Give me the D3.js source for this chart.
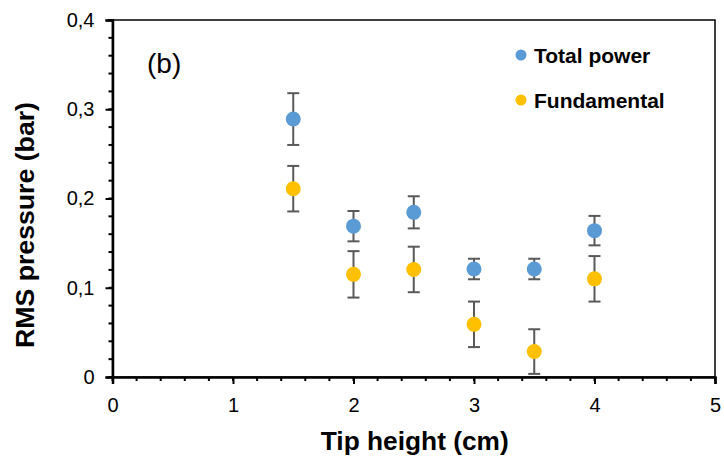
<!DOCTYPE html>
<html>
<head>
<meta charset="utf-8">
<script src="https://cdn.jsdelivr.net/npm/d3@7"></script>
<style>
  body { margin: 0; background: #fff; }
  svg { display: block; font-family: "Liberation Sans", Arial, sans-serif; }
</style>
</head>
<body>
<svg id="chart" width="724" height="463"></svg>
<script>
// chart values
const tipHeight = [1.5, 2, 2.5, 3, 3.5, 4];
const totalPower = [0.289, 0.169, 0.1845, 0.121, 0.121, 0.164];
const totalErr = [0.029, 0.017, 0.018, 0.0115, 0.0115, 0.0165];
const fundamental = [0.211, 0.115, 0.1205, 0.059, 0.0285, 0.110];
const fundErr = [0.0255, 0.026, 0.0255, 0.0255, 0.025, 0.0255];
const xTicks = [0, 1, 2, 3, 4, 5];
const yTicks = [0, 0.1, 0.2, 0.3, 0.4];
const seriesNames = ["Total power", "Fundamental"];
const seriesColors = ["#5B9BD5", "#FFC000"];

const svg = d3.select("#chart");
const width = 724, height = 463;

const x = d3.scaleLinear().domain([0, 5]).range([112.5, 715]);
const y = d3.scaleLinear().domain([0, 0.4]).range([377, 20]);

const fmtY = v => v === 0 ? "0" : d3.format(".1f")(v).replace(".", ",");
const fmtX = d3.format("d");

// plot frame (top + right)
svg.append("rect")
  .attr("x", x(0)).attr("y", y(0.4))
  .attr("width", x(5) - x(0)).attr("height", y(0) - y(0.4))
  .attr("fill", "none").attr("stroke", "#000").attr("stroke-width", 1.5);

// minor ticks
svg.append("g").selectAll("line")
  .data(d3.range(0, 0.4001, 0.02))
  .enter().append("line")
  .attr("x1", x(0) - 4).attr("x2", x(0))
  .attr("y1", d => y(d)).attr("y2", d => y(d))
  .attr("stroke", "#000").attr("stroke-width", 2);

svg.append("g").selectAll("line")
  .data(d3.range(0, 5.001, 0.2))
  .enter().append("line")
  .attr("x1", d => x(d)).attr("x2", d => x(d))
  .attr("y1", y(0)).attr("y2", y(0) + 4)
  .attr("stroke", "#000").attr("stroke-width", 2);

// axes
const yAxis = svg.append("g")
  .attr("transform", `translate(${x(0)},0)`)
  .call(d3.axisLeft(y).tickValues(yTicks).tickFormat(fmtY).tickSize(7).tickPadding(11));
const xAxis = svg.append("g")
  .attr("transform", `translate(0,${y(0)})`)
  .call(d3.axisBottom(x).tickValues(xTicks).tickFormat(fmtX).tickSize(7).tickPadding(14));

[xAxis, yAxis].forEach(ax => {
  ax.select(".domain").attr("stroke", "#000").attr("stroke-width", 2.5);
  ax.selectAll(".tick line").attr("stroke", "#000").attr("stroke-width", 2);
  ax.selectAll(".tick text")
    .attr("fill", "#000")
    .attr("font-size", "20px")
    .attr("font-family", "Liberation Sans, Arial, sans-serif");
});

// axis titles
svg.append("text")
  .attr("x", (x(0) + x(5)) / 2 + 1).attr("y", 450)
  .attr("text-anchor", "middle")
  .attr("font-size", "25px").attr("font-weight", "bold")
  .attr("textLength", 188).attr("lengthAdjust", "spacingAndGlyphs")
  .text("Tip height (cm)");

svg.append("text")
  .attr("transform", `translate(34,${225}) rotate(-90)`)
  .attr("text-anchor", "middle")
  .attr("font-size", "25px").attr("font-weight", "bold")
  .attr("textLength", 246).attr("lengthAdjust", "spacingAndGlyphs")
  .text("RMS pressure (bar)");

// panel label
svg.append("text")
  .attr("x", 147).attr("y", 73)
  .attr("font-size", "28px")
  .text("(b)");

// series
const series = [
  { values: totalPower, err: totalErr },
  { values: fundamental, err: fundErr }
];

series.forEach((s, i) => {
  const pts = tipHeight.map((t, j) => ({ t, v: s.values[j], e: s.err[j] }));
  const g = svg.append("g");
  const eb = g.selectAll("g.err").data(pts).enter().append("g").attr("class", "err")
    .attr("stroke", "#595959").attr("stroke-width", 2);
  eb.append("line")
    .attr("x1", d => x(d.t)).attr("x2", d => x(d.t))
    .attr("y1", d => y(d.v - d.e)).attr("y2", d => y(d.v + d.e));
  eb.append("line")
    .attr("x1", d => x(d.t) - 6).attr("x2", d => x(d.t) + 6)
    .attr("y1", d => y(d.v + d.e)).attr("y2", d => y(d.v + d.e));
  eb.append("line")
    .attr("x1", d => x(d.t) - 6).attr("x2", d => x(d.t) + 6)
    .attr("y1", d => y(d.v - d.e)).attr("y2", d => y(d.v - d.e));
  g.selectAll("circle").data(pts).enter().append("circle")
    .attr("cx", d => x(d.t)).attr("cy", d => y(d.v))
    .attr("r", 7.5)
    .attr("fill", seriesColors[i]);
});

// legend
const legend = svg.append("g");
seriesNames.forEach((name, i) => {
  const ly = 55 + i * 45;
  legend.append("circle")
    .attr("cx", 521).attr("cy", ly).attr("r", 5.5)
    .attr("fill", seriesColors[i]);
  legend.append("text")
    .attr("x", 534).attr("y", ly + 7.5)
    .attr("font-size", "21px").attr("font-weight", "bold")
    .text(name);
});
</script>
</body>
</html>
